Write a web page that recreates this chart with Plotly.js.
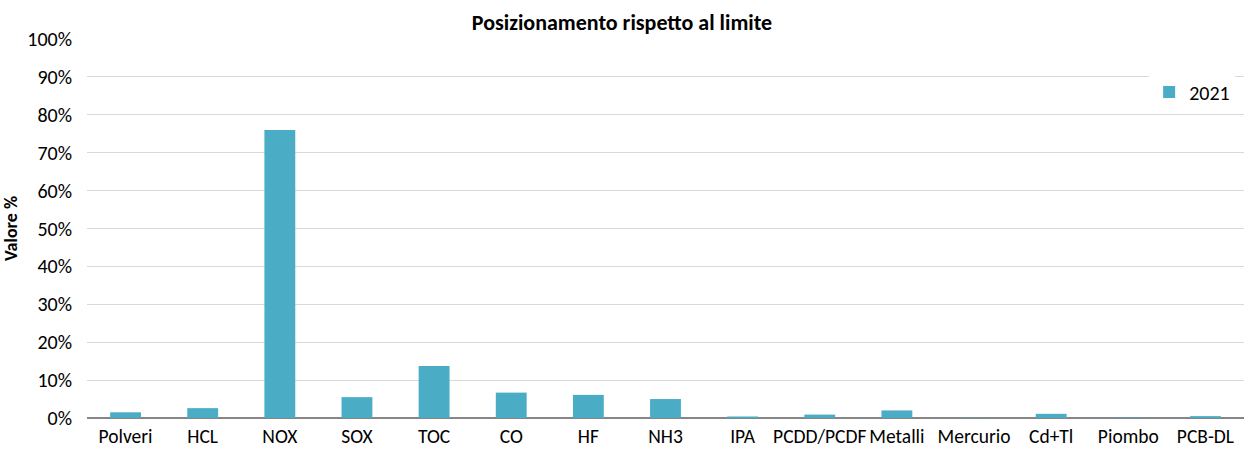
<!DOCTYPE html>
<html><head><meta charset="utf-8">
<script src="https://cdn.plot.ly/plotly-3.0.1.min.js"></script>
<style>html,body{margin:0;padding:0;background:#fff}#c{width:1244px;height:451px}</style>
</head><body><div id="c"></div>
<script>
const categories = ["Polveri","HCL","NOX","SOX","TOC","CO","HF","NH3","IPA","PCDD/PCDF","Metalli","Mercurio","Cd+Tl","Piombo","PCB-DL"];
const values2021 = [1.5, 2.6, 76.0, 5.5, 13.7, 6.7, 6.1, 5.0, 0.4, 0.9, 2.0, 0.05, 1.1, 0.1, 0.5];
const yTickVals = [0,10,20,30,40,50,60,70,80,90,100];
const yTickText = yTickVals.map(v => v + "%");

const font = "Carlito, Calibri, Lato, 'Liberation Sans', sans-serif";
Plotly.newPlot("c", [{
  type: "bar", x: categories, y: values2021, name: "2021",
  marker: {color: "#4BACC6"}, hoverinfo: "x+y"
}], {
  width: 1244, height: 451,
  margin: {l: 87, r: 0, t: 39, b: 33},
  paper_bgcolor: "#fff", plot_bgcolor: "#fff",
  bargap: 0.6,
  font: {family: font, size: 20, color: "#000"},
  title: {text: "<b>Posizionamento rispetto al limite</b>", font: {size: 22, family: font}, x: 0.5, xanchor: "center", y: 0.95, yanchor: "middle"},
  xaxis: {tickfont: {size: 19.5}, tickangle: 0, showline: false, ticks: "", automargin: false, ticklabelstandoff: 4},
  yaxis: {range: [0, 100], tickvals: yTickVals, ticktext: yTickText, gridcolor: "#d9d9d9", gridwidth: 1,
          zeroline: true, zerolinecolor: "#868686", zerolinewidth: 1.5, tickfont: {size: 20}, ticklabelstandoff: 14,
          title: {text: "<b>Valore %</b>", font: {size: 18}, standoff: 6}, automargin: false},
  showlegend: true,
  legend: {x: 0.918, xanchor: "left", y: 0.86, yanchor: "middle", bgcolor: "#fff", font: {size: 20}, itemwidth: 20, tracegroupgap: 0},
}, {displayModeBar: false, staticPlot: true});
</script></body></html>
